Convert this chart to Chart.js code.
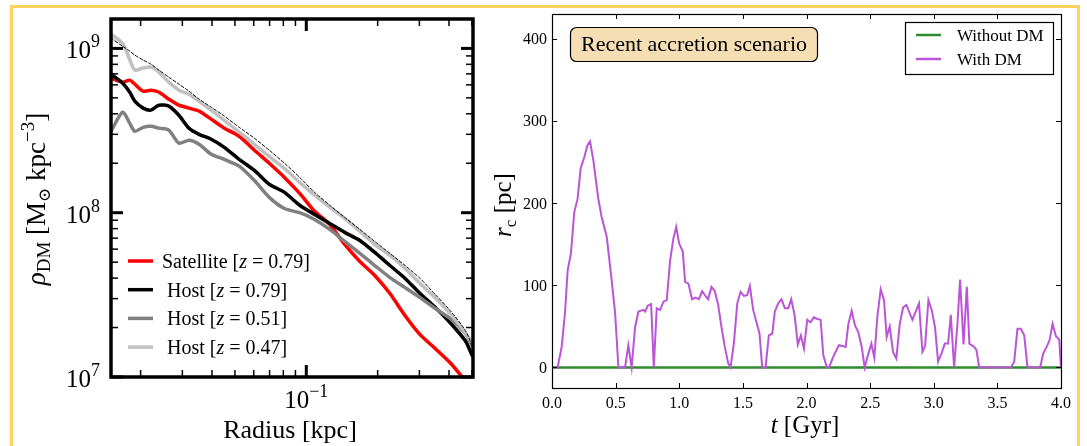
<!DOCTYPE html>
<html>
<head>
<meta charset="utf-8">
<script src="https://cdn.jsdelivr.net/npm/chart.js@4.4.1/dist/chart.umd.min.js"></script>
<style>
  body { margin: 0; background: #fff; width: 1087px; height: 446px; overflow: hidden; position: relative; }
  #frame { position: absolute; left: 10px; top: 5px; width: 1070px; height: 470px; border: 3px solid #ffd35e; box-sizing: border-box; }
  canvas { position: absolute; top: 0; }
  #densityChart { left: 0; }
  #coreChart { left: 490px; }
</style>
</head>
<body>
<div id="frame"></div>
<canvas id="densityChart" width="490" height="446"></canvas>
<canvas id="coreChart" width="597" height="446"></canvas>
<script>
// ---- left panel: density profiles ----
const radiusKpc = [0.0150, 0.0168, 0.0180, 0.0189, 0.0205, 0.0221, 0.0239, 0.0263, 0.0290, 0.0320,
  0.0353, 0.0397, 0.0451, 0.0521, 0.0604, 0.0698, 0.0809, 0.0938, 0.1084, 0.1256,
  0.1452, 0.1683, 0.1945, 0.2254, 0.2612, 0.3020, 0.3499, 0.4046, 0.4688, 0.5012];
const rhoSatellite = [6.59e8, 6.23e8, 6.41e8, 6.06e8, 5.49e8, 5.57e8, 5.41e8, 4.91e8, 4.51e8, 4.33e8,
  4.15e8, 3.71e8, 3.27e8, 2.92e8, 2.40e8, 2.00e8, 1.64e8, 1.31e8, 1.02e8, 8.49e7,
  6.41e7, 5.05e7, 4.15e7, 3.22e7, 2.36e7, 1.81e7, 1.49e7, 1.22e7, 9.5e6, 8.6e6];
const rhoHost079 = [6.97e8, 6.14e8, 5.41e8, 4.77e8, 4.33e8, 4.21e8, 4.51e8, 4.45e8, 3.92e8, 3.27e8,
  3.00e8, 2.80e8, 2.50e8, 2.11e8, 1.81e8, 1.49e8, 1.33e8, 1.11e8, 9.76e7, 8.60e7,
  7.59e7, 6.78e7, 5.73e7, 4.77e7, 3.98e7, 3.22e7, 2.65e7, 2.14e7, 1.66e7, 1.35e7];
const rhoHost051 = [3.13e8, 4.09e8, 3.50e8, 3.13e8, 3.31e8, 3.36e8, 3.27e8, 3.18e8, 2.65e8, 2.76e8,
  2.61e8, 2.27e8, 2.11e8, 1.92e8, 1.57e8, 1.24e8, 1.06e8, 1.00e8, 9.1e7, 7.91e7,
  6.68e7, 5.65e7, 4.77e7, 4.03e7, 3.50e7, 3.04e7, 2.61e7, 2.27e7, 1.84e7, 1.55e7];
const rhoHost047 = [1.22e9, 1.07e9, 8.53e8, 7.38e8, 7.59e8, 7.69e8, 7.17e8, 6.23e8, 5.57e8, 5.26e8,
  4.77e8, 4.21e8, 3.65e8, 3.09e8, 2.61e8, 2.20e8, 1.86e8, 1.53e8, 1.28e8, 1.08e8,
  9.23e7, 7.69e7, 6.41e7, 5.49e7, 4.58e7, 3.71e7, 3.04e7, 2.43e7, 1.86e7, 1.62e7];
const rhoFit = [1.155e9, 1.03e9, 9.63e8, 9.10e8, 8.49e8, 8.02e8, 7.38e8, 6.68e8, 6.06e8, 5.49e8,
  4.91e8, 4.39e8, 3.87e8, 3.31e8, 2.84e8, 2.40e8, 2.00e8, 1.64e8, 1.33e8, 1.11e8,
  9.36e7, 7.91e7, 6.68e7, 5.65e7, 4.77e7, 3.98e7, 3.18e7, 2.54e7, 1.92e7, 1.55e7];

const densityLegendNames = ['Satellite ', ' Host ', ' Host ', ' Host '];
const densityLegendRedshifts = ['0.79', '0.79', '0.51', '0.47'];
const densityColors = ['#ff0000', '#000000', '#808080', '#c0c0c0'];

const densityXMajor = [0.1];
const densityXMajorExp = ['\u22121'];
const densityXMinor = [0.02, 0.03, 0.04, 0.05, 0.06, 0.07, 0.08, 0.09, 0.2, 0.3, 0.4, 0.5];
const densityYMajor = [1e7, 1e8, 1e9];
const densityYMajorExp = ['7', '8', '9'];
const densityYMinor = [2e7, 3e7, 4e7, 5e7, 6e7, 7e7, 8e7, 9e7, 2e8, 3e8, 4e8, 5e8, 6e8, 7e8, 8e8, 9e8];

// ---- right panel: core radius vs time ----
const tGyr = [0.000, 0.044, 0.076, 0.102, 0.123, 0.149, 0.175, 0.201, 0.225, 0.254,
  0.278, 0.299, 0.325, 0.364, 0.390, 0.430, 0.469, 0.496, 0.522, 0.574,
  0.600, 0.626, 0.653, 0.679, 0.718, 0.732, 0.752, 0.779, 0.800, 0.823,
  0.850, 0.876, 0.902, 0.928, 0.954, 0.976, 0.999, 1.028, 1.046, 1.072,
  1.101, 1.127, 1.154, 1.180, 1.206, 1.227, 1.253, 1.279, 1.306, 1.332,
  1.358, 1.385, 1.403, 1.429, 1.456, 1.482, 1.508, 1.534, 1.555, 1.581,
  1.607, 1.631, 1.652, 1.678, 1.704, 1.731, 1.751, 1.778, 1.804, 1.830,
  1.857, 1.880, 1.906, 1.932, 1.956, 1.980, 2.006, 2.032, 2.058, 2.085,
  2.111, 2.132, 2.160, 2.176, 2.216, 2.255, 2.282, 2.308, 2.329, 2.355,
  2.381, 2.407, 2.434, 2.457, 2.483, 2.510, 2.533, 2.557, 2.583, 2.609,
  2.630, 2.654, 2.680, 2.706, 2.733, 2.759, 2.785, 2.832, 2.858, 2.884,
  2.911, 2.932, 2.958, 2.984, 3.010, 3.034, 3.061, 3.087, 3.113, 3.134,
  3.160, 3.186, 3.207, 3.234, 3.260, 3.280, 3.318, 3.336, 3.357, 3.606,
  3.632, 3.658, 3.684, 3.711, 3.737, 3.836, 3.860, 3.887, 3.910, 3.934,
  3.960, 3.986, 4.000];
const rcWithDM = [0, 0, 25, 66, 118, 139, 189, 205, 242, 256,
  270, 275, 252, 205, 183, 159, 106, 66, 0, 0,
  27, 0, 49, 68, 70, 68, 75, 77, 0, 72,
  70, 80, 82, 130, 157, 171, 151, 141, 104, 102,
  83, 85, 83, 93, 87, 83, 98, 93, 76, 49,
  25, 5, 0, 29, 78, 92, 87, 88, 99, 70,
  55, 41, 0, 0, 39, 41, 68, 78, 83, 72,
  72, 83, 64, 28, 39, 23, 58, 55, 61, 59,
  58, 15, 0, 0, 15, 27, 26, 25, 53, 69,
  51, 43, 25, 0, 15, 29, 12, 62, 95, 82,
  37, 50, 19, 11, 53, 73, 76, 58, 68, 78,
  19, 26, 82, 70, 49, 7, 17, 29, 29, 64,
  0, 53, 107, 28, 98, 29, 25, 21, 0, 0,
  7, 47, 47, 39, 0, 0, 17, 25, 33, 53,
  38, 34, 0];
const tWithoutDM = [0.0, 4.0];
const rcWithoutDM = [0, 0];

const coreXTicks = [0, 0.5, 1.0, 1.5, 2.0, 2.5, 3.0, 3.5, 4.0];
const coreXLabels = ['0.0', '0.5', '1.0', '1.5', '2.0', '2.5', '3.0', '3.5', '4.0'];
const coreYTicks = [0, 100, 200, 300, 400];
const coreYLabels = ['0', '100', '200', '300', '400'];
const coreLegendNames = ['Without DM', 'With DM'];
const coreColors = ['#2e8b2e', '#bb55d8'];

// ---- helpers ----
const SERIF = '"Liberation Serif", "DejaVu Serif", serif';
function font(size, style) {
  return (style ? style + ' ' : '') + size + 'px ' + SERIF;
}

// draw a row of text pieces with their own font and vertical shift
function drawRich(ctx, parts, x, y, align) {
  let total = 0;
  parts.forEach(p => {
    ctx.font = p.font;
    p.w = ctx.measureText(p.text).width;
    total += p.w;
  });
  let cx = x;
  if (align === 'center') cx = x - total / 2;
  if (align === 'right') cx = x - total;
  ctx.textAlign = 'left';
  ctx.textBaseline = 'alphabetic';
  parts.forEach(p => {
    ctx.font = p.font;
    ctx.fillText(p.text, cx, y + (p.dy || 0));
    cx += p.w;
  });
}

function seg(ctx, x1, y1, x2, y2) {
  ctx.beginPath();
  ctx.moveTo(x1, y1);
  ctx.lineTo(x2, y2);
  ctx.stroke();
}

// ---- left panel decorations ----
const densityDecor = {
  id: 'densityDecor',
  afterDraw(chart) {
    const ctx = chart.ctx;
    const a = chart.chartArea;
    const xs = chart.scales.x;
    const ys = chart.scales.y;
    ctx.save();
    ctx.strokeStyle = '#000';
    ctx.fillStyle = '#000';

    // minor ticks, inside on all four sides
    ctx.lineWidth = 1.5;
    densityXMinor.forEach(v => {
      const px = xs.getPixelForValue(v);
      seg(ctx, px, a.bottom, px, a.bottom - 7);
      seg(ctx, px, a.top, px, a.top + 7);
    });
    densityYMinor.forEach(v => {
      const py = ys.getPixelForValue(v);
      seg(ctx, a.left, py, a.left + 7, py);
      seg(ctx, a.right, py, a.right - 7, py);
    });
    // major ticks
    ctx.lineWidth = 3;
    densityXMajor.forEach(v => {
      const px = xs.getPixelForValue(v);
      seg(ctx, px, a.bottom, px, a.bottom - 12);
      seg(ctx, px, a.top, px, a.top + 12);
    });
    densityYMajor.forEach(v => {
      const py = ys.getPixelForValue(v);
      seg(ctx, a.left, py, a.left + 12, py);
      seg(ctx, a.right, py, a.right - 12, py);
    });
    ctx.lineWidth = 3.5;
    ctx.strokeRect(a.left, a.top, a.right - a.left, a.bottom - a.top);

    // tick labels
    densityYMajor.forEach((v, i) => {
      const py = ys.getPixelForValue(v);
      drawRich(ctx, [
        { text: '10', font: font(25) },
        { text: densityYMajorExp[i], font: font(18), dy: -11 }
      ], a.left - 11, py + 10, 'right');
    });
    densityXMajor.forEach((v, i) => {
      const px = xs.getPixelForValue(v);
      drawRich(ctx, [
        { text: '10', font: font(25) },
        { text: densityXMajorExp[i], font: font(18), dy: -11 }
      ], px, a.bottom + 31, 'center');
    });

    // axis titles
    drawRich(ctx, [{ text: 'Radius [kpc]', font: font(26) }], 290, 438, 'center');
    ctx.save();
    ctx.translate(45, 199);
    ctx.rotate(-Math.PI / 2);
    drawRich(ctx, [
      { text: '\u03c1', font: font(27, 'italic') },
      { text: 'DM', font: font(19), dy: 5 },
      { text: ' [M', font: font(27) },
      { text: '\u2299', font: font(17), dy: 5 },
      { text: ' kpc', font: font(27) },
      { text: '\u22123', font: font(19), dy: -11 },
      { text: ']', font: font(27) }
    ], 0, 0, 'center');
    ctx.restore();

    // legend inside the axes
    densityLegendNames.forEach((name, i) => {
      const y = 261 + i * 28.7;
      ctx.strokeStyle = densityColors[i];
      ctx.lineWidth = 3.5;
      seg(ctx, 128, y, 153, y);
      ctx.fillStyle = '#000';
      drawRich(ctx, [
        { text: name + '[', font: font(20) },
        { text: 'z', font: font(20, 'italic') },
        { text: ' = ' + densityLegendRedshifts[i] + ']', font: font(20) }
      ], 162, y + 7, 'left');
    });
    ctx.restore();
  }
};

const densityChart = new Chart(document.getElementById('densityChart'), {
  type: 'line',
  data: {
    datasets: [
      { label: 'fit', data: radiusKpc.map((r, i) => ({ x: r, y: rhoFit[i] })),
        borderColor: '#000', borderWidth: 1, borderDash: [3, 2] },
      { label: 'Host z=0.47', data: radiusKpc.map((r, i) => ({ x: r, y: rhoHost047[i] })),
        borderColor: densityColors[3], borderWidth: 3.5 },
      { label: 'Host z=0.51', data: radiusKpc.map((r, i) => ({ x: r, y: rhoHost051[i] })),
        borderColor: densityColors[2], borderWidth: 3.5 },
      { label: 'Host z=0.79', data: radiusKpc.map((r, i) => ({ x: r, y: rhoHost079[i] })),
        borderColor: densityColors[1], borderWidth: 3.5 },
      { label: 'Satellite z=0.79', data: radiusKpc.map((r, i) => ({ x: r, y: rhoSatellite[i] })),
        borderColor: densityColors[0], borderWidth: 3.5 }
    ]
  },
  options: {
    responsive: false,
    animation: false,
    devicePixelRatio: 1,
    layout: { padding: { left: 111, top: 19, right: 17, bottom: 69 } },
    elements: { point: { radius: 0 }, line: { tension: 0.25, borderCapStyle: 'round', borderJoinStyle: 'round' } },
    scales: {
      x: { type: 'logarithmic', min: 0.015, max: 0.505, display: false, bounds: 'data' },
      y: { type: 'logarithmic', min: 1e7, max: 1.51e9, display: false, bounds: 'data' }
    },
    plugins: { legend: { display: false }, tooltip: { enabled: false } }
  },
  plugins: [densityDecor]
});

// ---- right panel decorations ----
const coreDecor = {
  id: 'coreDecor',
  afterDraw(chart) {
    const ctx = chart.ctx;
    const a = chart.chartArea;
    const xs = chart.scales.x;
    const ys = chart.scales.y;
    ctx.save();
    ctx.strokeStyle = '#000';
    ctx.fillStyle = '#000';
    ctx.lineWidth = 1;

    coreXTicks.forEach(v => {
      const px = Math.round(xs.getPixelForValue(v)) + 0.5;
      seg(ctx, px, a.bottom, px, a.bottom - 5);
      seg(ctx, px, a.top, px, a.top + 5);
    });
    coreYTicks.forEach(v => {
      const py = Math.round(ys.getPixelForValue(v)) + 0.5;
      seg(ctx, a.left, py, a.left + 5, py);
      seg(ctx, a.right, py, a.right - 5, py);
    });
    ctx.lineWidth = 1.2;
    ctx.strokeRect(Math.round(a.left) + 0.5, Math.round(a.top) + 0.5,
      Math.round(a.right - a.left), Math.round(a.bottom - a.top));

    // tick labels
    coreXTicks.forEach((v, i) => {
      drawRich(ctx, [{ text: coreXLabels[i], font: font(16) }], xs.getPixelForValue(v), a.bottom + 20, 'center');
    });
    coreYTicks.forEach((v, i) => {
      drawRich(ctx, [{ text: coreYLabels[i], font: font(16) }], a.left - 5, ys.getPixelForValue(v) + 5.5, 'right');
    });

    // axis titles
    drawRich(ctx, [
      { text: 't', font: font(25, 'italic') },
      { text: ' [Gyr]', font: font(25) }
    ], 315, 433, 'center');
    ctx.save();
    ctx.translate(21, 205);
    ctx.rotate(-Math.PI / 2);
    drawRich(ctx, [
      { text: 'r', font: font(25, 'italic') },
      { text: 'c', font: font(17), dy: 5 },
      { text: ' [pc]', font: font(25) }
    ], 0, 0, 'center');
    ctx.restore();

    // scenario label box
    ctx.beginPath();
    ctx.roundRect(80.5, 27.5, 247, 34, 6);
    ctx.fillStyle = '#f5deb3';
    ctx.fill();
    ctx.lineWidth = 1.2;
    ctx.strokeStyle = '#000';
    ctx.stroke();
    ctx.fillStyle = '#000';
    drawRich(ctx, [{ text: 'Recent accretion scenario', font: font(22) }], 204, 51, 'center');

    // legend box
    ctx.fillStyle = '#fff';
    ctx.fillRect(415.5, 22.5, 148, 52);
    ctx.strokeRect(415.5, 22.5, 148, 52);
    coreLegendNames.forEach((name, i) => {
      const y = 35 + i * 24;
      ctx.strokeStyle = coreColors[i];
      ctx.lineWidth = 2.5;
      seg(ctx, 426, y, 451, y);
      ctx.fillStyle = '#000';
      drawRich(ctx, [{ text: name, font: font(17) }], 467, y + 6, 'left');
    });
    ctx.restore();
  }
};

const coreChart = new Chart(document.getElementById('coreChart'), {
  type: 'line',
  data: {
    datasets: [
      { label: 'With DM', data: tGyr.map((t, i) => ({ x: t, y: rcWithDM[i] })),
        borderColor: coreColors[1], borderWidth: 2 },
      { label: 'Without DM', data: tWithoutDM.map((t, i) => ({ x: t, y: rcWithoutDM[i] })),
        borderColor: coreColors[0], borderWidth: 2.5 }
    ]
  },
  options: {
    responsive: false,
    animation: false,
    devicePixelRatio: 1,
    layout: { padding: { left: 62, top: 14, right: 26, bottom: 58 } },
    elements: { point: { radius: 0 }, line: { tension: 0 } },
    scales: {
      x: { type: 'linear', min: 0, max: 4, display: false },
      y: { type: 'linear', min: -25, max: 430, display: false }
    },
    plugins: { legend: { display: false }, tooltip: { enabled: false } }
  },
  plugins: [coreDecor]
});
</script>
</body>
</html>
